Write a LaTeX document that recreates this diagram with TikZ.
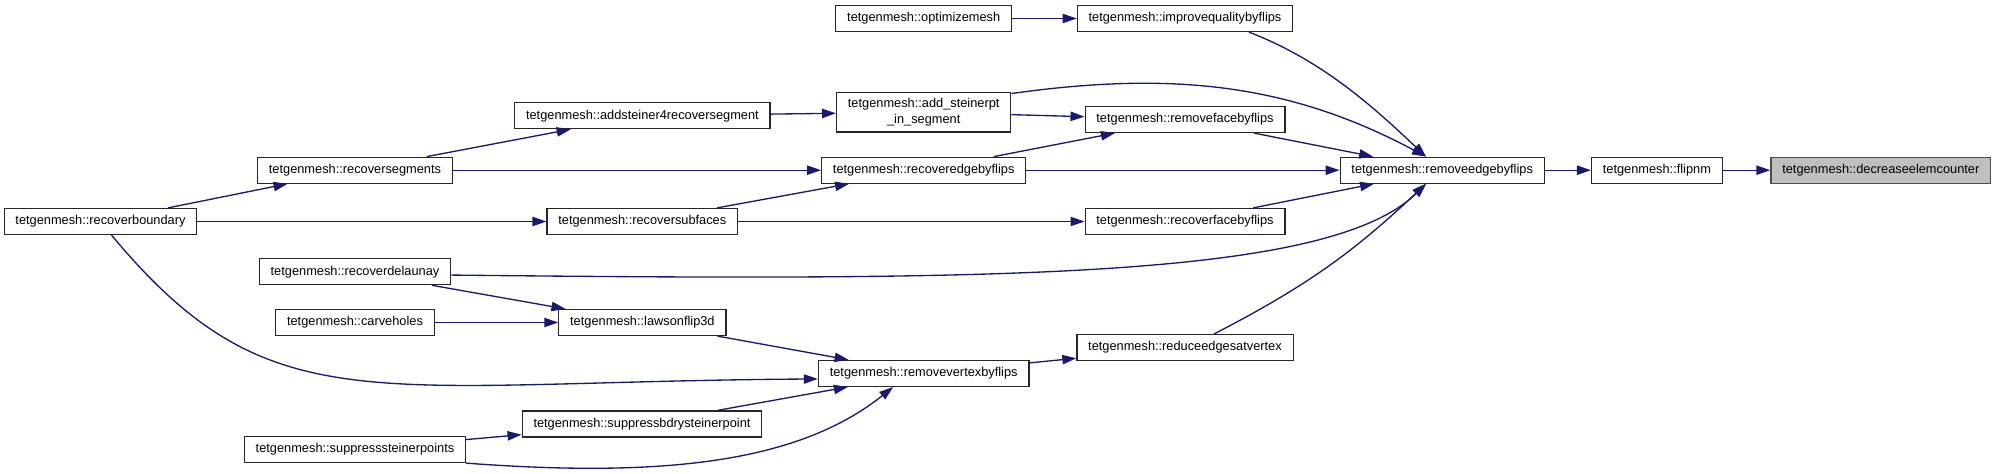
\documentclass[tikz,border=0pt]{standalone}
\usepackage{fontspec}
\setmainfont{Liberation Sans}
\usetikzlibrary{arrows.meta}
\definecolor{edgeblue}{HTML}{191970}
\definecolor{rootgrey}{HTML}{BFBFBF}

\begin{document}
\begin{tikzpicture}[x=0.75pt, y=-0.75pt, >={Triangle[length=10.5pt,width=7pt]},
		font=\fontsize{9.6pt}{11.3pt}\selectfont,
		fn/.style={draw=black!85, line width=0.9pt, fill=white, inner xsep=8.5pt, inner ysep=0pt, minimum height=19.5pt},
		root/.style={fn, draw=black!70, fill=rootgrey},
		call/.style={->, draw=edgeblue, line width=1pt}]
		\useasboundingbox (0,0) rectangle (1996,474);
		% rank 1 and 2
		\node[fn] (rbd) at (100.5,221.5) {tetgenmesh::recoverboundary};
		\node[fn] (rsg) at (355,170.2) {tetgenmesh::recoversegments};
		\node[fn] (rdl) at (355,271.7) {tetgenmesh::recoverdelaunay};
		\node[fn] (cvh) at (355,322.5) {tetgenmesh::carveholes};
		\node[fn] (sst) at (355,449.5) {tetgenmesh::suppresssteinerpoints};
		% rank 3
		\node[fn] (as4) at (642.4,115.7) {tetgenmesh::addsteiner4recoversegment};
		\node[fn] (rsf) at (642.3,221.5) {tetgenmesh::recoversubfaces};
		\node[fn] (lfd) at (642.4,322.5) {tetgenmesh::lawsonflip3d};
		\node[fn] (sbs) at (642,423.9) {tetgenmesh::suppressbdrysteinerpoint};
		% rank 4
		\node[fn] (opt) at (923.7,18.5) {tetgenmesh::optimizemesh};
		\node[fn, align=center, minimum height=29.8pt] (asp) at (923.7,112.2) {tetgenmesh::add\_steinerpt\\\_in\_segment};
		\node[fn] (red) at (923.7,170.2) {tetgenmesh::recoveredgebyflips};
		\node[fn] (rvx) at (923.7,373.4) {tetgenmesh::removevertexbyflips};
		% rank 5
		\node[fn] (imp) at (1185,18.5) {tetgenmesh::improvequalitybyflips};
		\node[fn] (rfa) at (1185,119.5) {tetgenmesh::removefacebyflips};
		\node[fn] (rcf) at (1185,221.5) {tetgenmesh::recoverfacebyflips};
		\node[fn] (rev) at (1185,347.5) {tetgenmesh::reduceedgesatvertex};
		% rank 6 to 8
		\node[fn] (ree) at (1442.2,170.2) {tetgenmesh::removeedgebyflips};
		\node[fn] (fnm) at (1656.9,170.2) {tetgenmesh::flipnm};
		\node[root] (dec) at (1880.8,170.2) {tetgenmesh::decreaseelemcounter};
		% upper calls
		\draw[call] (opt) -- (imp);
		\draw[call] (as4) -- (asp);
		\draw[call] (asp) -- (rfa);
		\draw[call] (red) -- (rfa);
		\draw[call] (rfa) -- (ree);
		\draw[call] (imp.-12) .. controls +(75,29) and +(-51,-48) .. (ree.140);
		\draw[call] (asp.12) .. controls +(163,-23) and +(-135,-72) .. (ree.140);
		% middle calls
		\draw[call] (rbd) -- (rsg);
		\draw[call] (rbd) -- (rsf);
		\draw[call] (rsg) -- (as4);
		\draw[call] (rsg) -- (red);
		\draw[call] (rsf) -- (red);
		\draw[call] (rsf) -- (rcf);
		\draw[call] (red) -- (ree);
		\draw[call] (rcf) -- (ree);
		\draw[call] (ree) -- (fnm);
		\draw[call] (fnm) -- (dec);
		% lower calls
		\draw[call] (rdl.-2) .. controls +(549,6) and +(-97,95) .. (ree.-140);
		\draw[call] (rdl) -- (lfd);
		\draw[call] (cvh) -- (lfd);
		\draw[call] (lfd) -- (rvx);
		\draw[call] (sbs) -- (rvx);
		\draw[call] (sst) -- (sbs);
		\draw[call] (rvx) -- (rev);
		\draw[call] (rev.25) to[bend right=8] (ree.-140);
		\draw[call] (rbd.-51) .. controls +(159,191) and +(-450,3) .. (rvx.-177);
		\draw[call] (sst.-7) .. controls +(200,15) and +(-94,75) .. (rvx.-156);
	\end{tikzpicture}
\end{document}
